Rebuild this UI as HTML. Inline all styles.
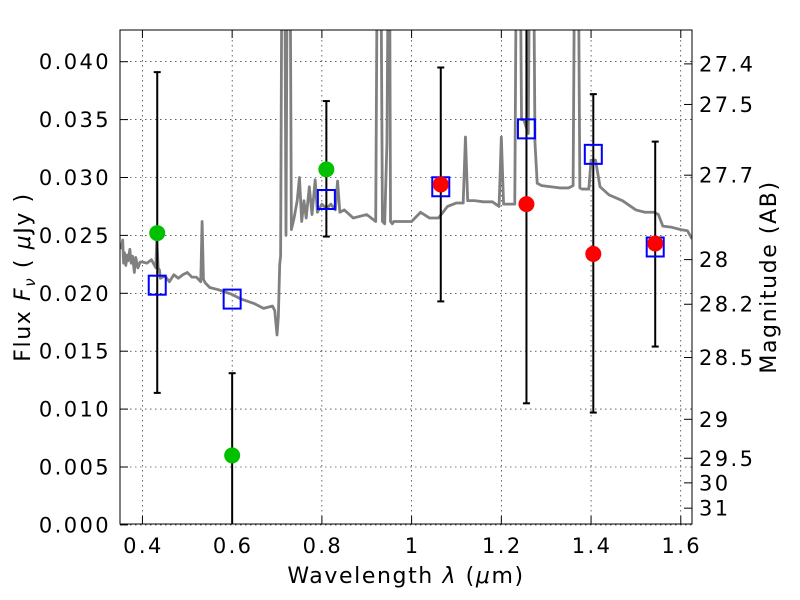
<!DOCTYPE html>
<html><head><meta charset="utf-8"><style>
html,body{margin:0;padding:0;background:#fff;}
svg{display:block;font-family:"DejaVu Sans","Liberation Sans",sans-serif;}
.tk{letter-spacing:2.4px;}
.ti{letter-spacing:1.6px;}
</style></head><body>
<svg id="chart" width="800" height="600" viewBox="0 0 800 600">
<defs><clipPath id="clip"><rect x="120" y="30" width="572" height="494"/></clipPath></defs>
<rect x="0" y="0" width="800" height="600" fill="#fff"/>
<g id="grid"></g>
<g id="spec" clip-path="url(#clip)"></g>
<g id="marks" clip-path="url(#clip)"></g>
<rect x="120" y="30" width="572" height="494" fill="none" stroke="#000" stroke-width="1"/>
<g id="axes"></g>
<text class="ti" x="406" y="583" font-size="22" text-anchor="middle">Wavelength  <tspan font-style="italic">λ</tspan> (<tspan font-style="italic">μ</tspan>m)</text>
<text class="ti" transform="translate(30,277) rotate(-90)" font-size="22" text-anchor="middle">Flux  <tspan font-style="italic">F</tspan><tspan font-style="italic" font-size="15" dy="5">ν</tspan><tspan dy="-5">  ( </tspan><tspan font-style="italic">μ</tspan>Jy )</text>
<text class="ti" transform="translate(776,277) rotate(-90)" font-size="22" text-anchor="middle">Magnitude (AB)</text>
</svg>
<script>
const xTicks=[0.4,0.6,0.8,1.0,1.2,1.4,1.6];
const xTickLabels=["0.4","0.6","0.8","1","1.2","1.4","1.6"];
const yTicks=[0,0.005,0.01,0.015,0.02,0.025,0.03,0.035,0.04];
const yTickLabels=["0.000","0.005","0.010","0.015","0.020","0.025","0.030","0.035","0.040"];
const magTicks=[27.4,27.5,27.7,28,28.2,28.5,29,29.5,30,31];
const magLabels=["27.4","27.5","27.7","28","28.2","28.5","29","29.5","30","31"];
const bandWave=[0.433,0.6,0.81,1.065,1.256,1.405,1.543];
const modelFlux=[0.0207,0.0195,0.0281,0.0292,0.0342,0.0320,0.0240];
const greenWave=[0.433,0.6,0.81];
const greenFlux=[0.0252,0.006,0.0307];
const greenLo=[0.0114,-0.002,0.0249];
const greenHi=[0.0391,0.0131,0.0366];
const redWave=[1.065,1.256,1.405,1.543];
const redFlux=[0.0294,0.0277,0.0234,0.0243];
const redLo=[0.0193,0.0105,0.0097,0.0154];
const redHi=[0.0395,0.046,0.0372,0.0331];
const specWave=[0.352,0.356,0.358,0.36,0.363,0.366,0.368,0.372,0.375,0.378,0.382,0.385,0.39,0.395,0.40,0.41,0.42,0.43,0.432,0.435,0.438,0.44,0.45,0.46,0.47,0.48,0.49,0.50,0.51,0.52,0.53,0.533,0.536,0.54,0.55,0.57,0.60,0.62,0.65,0.67,0.69,0.695,0.700,0.703,0.706,0.708,0.712,0.716,0.72,0.724,0.728,0.732,0.738,0.745,0.75,0.755,0.76,0.765,0.772,0.778,0.785,0.79,0.80,0.81,0.82,0.83,0.835,0.84,0.85,0.87,0.90,0.92,0.925,0.93,0.935,0.94,0.945,0.95,0.953,0.957,0.96,0.98,1.0,1.02,1.04,1.06,1.08,1.10,1.115,1.12,1.125,1.14,1.16,1.18,1.195,1.20,1.205,1.22,1.23,1.235,1.24,1.245,1.25,1.26,1.265,1.27,1.275,1.28,1.29,1.31,1.33,1.35,1.36,1.365,1.37,1.375,1.38,1.395,1.40,1.41,1.42,1.44,1.47,1.50,1.52,1.54,1.55,1.56,1.58,1.60,1.615,1.625];
const specFlux=[0.0238,0.0246,0.0226,0.0235,0.0224,0.0233,0.0228,0.0238,0.0226,0.0232,0.0218,0.0231,0.0222,0.0227,0.0227,0.0226,0.0229,0.0222,0.0248,0.0222,0.0220,0.0213,0.0215,0.0210,0.0216,0.0213,0.0216,0.0218,0.0214,0.0214,0.0210,0.0262,0.0212,0.0209,0.0205,0.0203,0.0199,0.0195,0.0191,0.0187,0.0189,0.0185,0.0164,0.0180,0.0225,0.0232,0.060,0.060,0.0250,0.060,0.0600,0.0255,0.0265,0.0280,0.0300,0.0262,0.0280,0.0265,0.0292,0.0268,0.0298,0.0270,0.0277,0.0273,0.0277,0.0272,0.0297,0.0270,0.0272,0.0265,0.0268,0.0262,0.060,0.060,0.0262,0.0260,0.0330,0.060,0.0262,0.0260,0.0262,0.0262,0.0262,0.0270,0.0265,0.0265,0.0275,0.0278,0.0278,0.0335,0.0280,0.0280,0.0279,0.0279,0.0275,0.0335,0.0277,0.0277,0.0277,0.060,0.060,0.035,0.035,0.0338,0.060,0.060,0.0330,0.0295,0.0293,0.0292,0.0291,0.0291,0.0293,0.060,0.060,0.0291,0.0290,0.0290,0.0315,0.0315,0.0292,0.0285,0.0280,0.0272,0.0270,0.0270,0.0268,0.0258,0.0257,0.0255,0.0254,0.0247];
const X0=120,X1=692,Y0=524.9,XMIN=0.35,XMAX=1.625,YS=11580;
const sx=v=>X0+(v-XMIN)/(XMAX-XMIN)*(X1-X0);
const sy=v=>Y0-v*YS;
const NS="http://www.w3.org/2000/svg";
function mk(tag,attrs,parent){const e=document.createElementNS(NS,tag);for(const k in attrs)e.setAttribute(k,attrs[k]);parent.appendChild(e);return e;}
const grid=document.getElementById('grid'),axes=document.getElementById('axes'),spec=document.getElementById('spec'),marks=document.getElementById('marks');
xTicks.forEach((t,i)=>{const x=sx(t);
 const g=mk('line',{x1:x,x2:x,y1:30,y2:524,stroke:'#000','stroke-width':0.6,'stroke-dasharray':'1.5,3.5'},grid);
 
 mk('line',{x1:x,x2:x,y1:524,y2:516,stroke:'#000'},axes);
 mk('line',{x1:x,x2:x,y1:30,y2:38,stroke:'#000'},axes);
 const tx=mk('text',{x:x+1,y:553,'font-size':21,'text-anchor':'middle','class':'tk'},axes);tx.textContent=xTickLabels[i];
 });
yTicks.forEach((t,i)=>{const y=sy(t);
 const g=mk('line',{x1:120,x2:692,y1:y,y2:y,stroke:'#000','stroke-width':0.6,'stroke-dasharray':'1.5,3.5'},grid);
 
 mk('line',{x1:120,x2:128,y1:y,y2:y,stroke:'#000'},axes);
 const tx=mk('text',{x:111,y:y+7.5,'font-size':21,'text-anchor':'end','class':'tk'},axes);tx.textContent=yTickLabels[i];
 });
magTicks.forEach((m,i)=>{const f=Math.pow(10,(23.9-m)/2.5);const y=sy(f);
 mk('line',{x1:684,x2:692,y1:y,y2:y,stroke:'#000'},axes);
 const tx=mk('text',{x:699,y:y+7.5,'font-size':21,'class':'tk'},axes);tx.textContent=magLabels[i];
 });
const p=mk('polyline',{points:specWave.map((w,i)=>sx(w)+','+sy(specFlux[i])).join(' '),fill:'none',stroke:'#808080','stroke-width':2.8,'stroke-linejoin':'round'},spec);

function errbar(w,lo,hi){const x=sx(w);
 const l=mk('line',{x1:x,x2:x,y1:sy(lo),y2:sy(hi),stroke:'#000','stroke-width':2},marks);
 
 mk('line',{x1:x-3.5,x2:x+3.5,y1:sy(lo),y2:sy(lo),stroke:'#000','stroke-width':2},marks);
 mk('line',{x1:x-3.5,x2:x+3.5,y1:sy(hi),y2:sy(hi),stroke:'#000','stroke-width':2},marks);}
greenWave.forEach((w,i)=>errbar(w,greenLo[i],greenHi[i]));
redWave.forEach((w,i)=>errbar(w,redLo[i],redHi[i]));
bandWave.forEach((w,i)=>{const r=mk('rect',{x:sx(w)-8.5,y:sy(modelFlux[i])-9.5,width:17,height:19,fill:'none',stroke:'#0000ff','stroke-width':2},marks);
 });
greenWave.forEach((w,i)=>{const c=mk('circle',{cx:sx(w),cy:sy(greenFlux[i]),r:8,fill:'#00c000'},marks);
 });
redWave.forEach((w,i)=>{const c=mk('circle',{cx:sx(w),cy:sy(redFlux[i]),r:8,fill:'#ff0000'},marks);
 });
</script>
</body></html>
